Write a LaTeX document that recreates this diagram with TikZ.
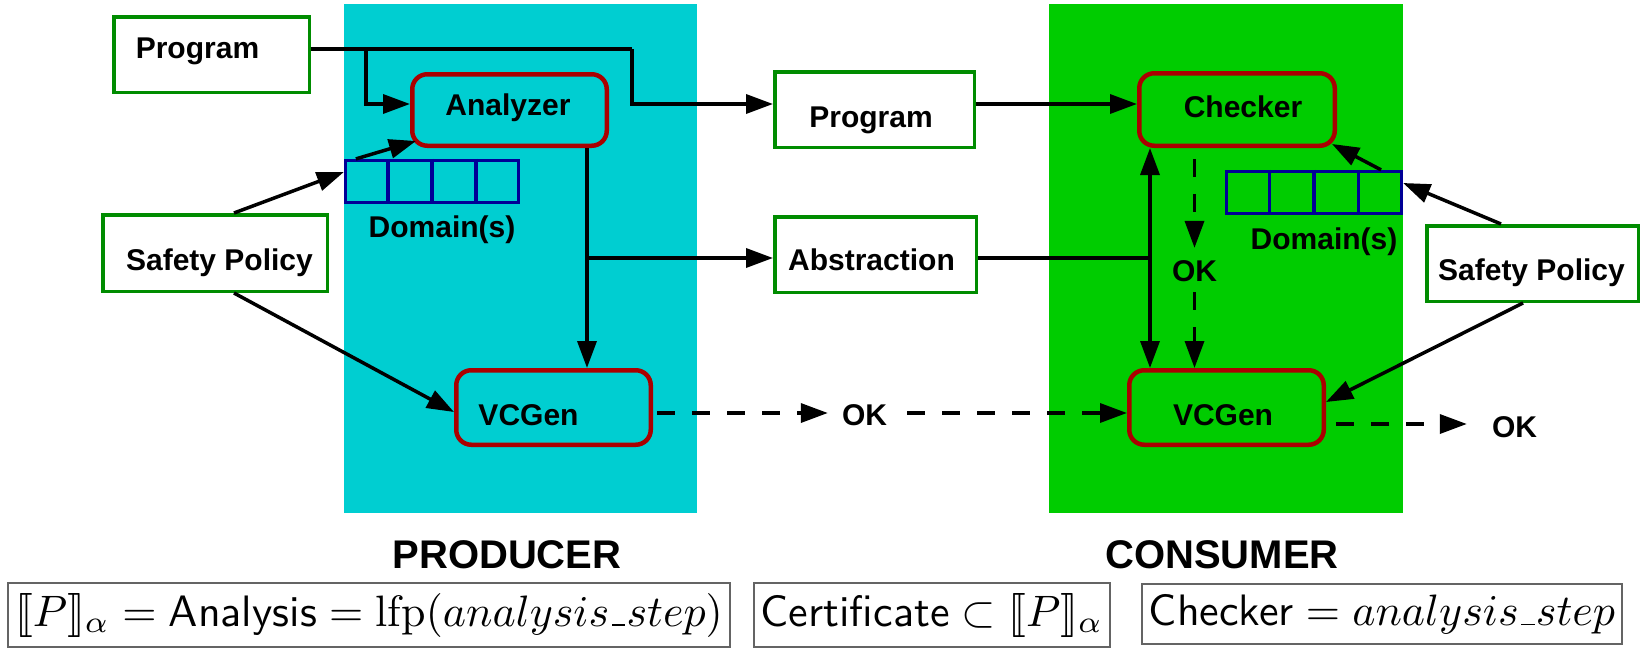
\documentclass[tikz,border=0pt]{standalone}
\usepackage{fontspec}
\usepackage{stmaryrd}
\usepackage{graphicx}
\usetikzlibrary{arrows.meta,calc}
\newfontfamily\lab{Liberation Sans}
\newcommand\uscore{\mbox{\kern.06em\vbox{\hrule width.3em height .04em}\kern.03em}}
\definecolor{prodcyan}{RGB}{0,206,209}
\definecolor{consgreen}{RGB}{0,204,0}
\definecolor{boxgreen}{RGB}{0,140,0}
\definecolor{boxred}{RGB}{170,0,0}
\definecolor{domblue}{RGB}{0,0,150}
\definecolor{fgray}{RGB}{100,100,100}
\begin{document}
\begin{tikzpicture}[x=1pt,y=-1pt,
  bg/.style={draw=none, inner sep=0pt, outer sep=0pt},
  inbox/.style={draw=boxgreen, line width=3.5pt, fill=white, inner sep=0pt},
  tool/.style={draw=boxred, line width=4.5pt, rounded corners=15pt, inner sep=0pt},
  dom/.style={draw=domblue, line width=3.2pt, inner sep=0pt},
  lbl/.style={font=\lab\bfseries\fontsize{30}{36}\selectfont, inner sep=0pt, anchor=base},
  bigtitle/.style={font=\lab\bfseries\fontsize{40}{48}\selectfont, inner sep=0pt, anchor=base},
  ln/.style={line width=3.5pt},
  arr/.style={ln, -{Triangle[length=27pt,width=19pt]}},
  dsh/.style={dash pattern=on 18pt off 17pt},
  darr/.style={arr, dsh},
  formula/.style={draw=fgray, line width=1.5pt, inner xsep=7pt, inner ysep=10pt}
]
\useasboundingbox (0,0) rectangle (1652,648);
\fill[white] (0,0) rectangle (1652,648);

% backgrounds
\node[bg, fill=prodcyan, minimum width=353pt, minimum height=509pt] (prodbg) at (520.5,258.5) {};
\node[bg, fill=consgreen, minimum width=354pt, minimum height=509pt] (consbg) at (1226,258.5) {};

% boxes
\node[inbox, minimum width=195.5pt, minimum height=75.5pt] (progA) at (211.5,54.5) {};
\node[inbox, minimum width=224.5pt, minimum height=76.5pt] (spA) at (215,253) {};
\node[tool, minimum width=194.5pt, minimum height=71.5pt] (an) at (509.5,110) {};
\node[dom, minimum width=173pt, minimum height=42pt] (domA) at (432,181.5) {};
\node[tool, minimum width=194.5pt, minimum height=74.5pt] (vcA) at (553.5,407.5) {};
\node[inbox, minimum width=199.5pt, minimum height=75.5pt] (progB) at (874.5,109.5) {};
\node[inbox, minimum width=201.5pt, minimum height=75.5pt] (absB) at (875.5,254.5) {};
\node[tool, minimum width=195.5pt, minimum height=72.5pt] (ch) at (1237,109.5) {};
\node[dom, minimum width=175pt, minimum height=42pt] (domB) at (1314,192.5) {};
\node[inbox, minimum width=211.5pt, minimum height=75.5pt] (spB) at (1532.5,263.5) {};
\node[tool, minimum width=194.5pt, minimum height=74.5pt] (vcB) at (1226.5,407.5) {};

% domain cells
\foreach \f in {0.25,0.5,0.75}{
  \draw[domblue, line width=3.2pt] ($(domA.north west)!\f!(domA.north east)$) -- ($(domA.south west)!\f!(domA.south east)$);
  \draw[domblue, line width=3.2pt] ($(domB.north west)!\f!(domB.north east)$) -- ($(domB.south west)!\f!(domB.south east)$);
}

% labels
\node[lbl] (tProgA) at (197.5,58) {Program};
\node[lbl] (tSpA) at (219.5,270) {Safety Policy};
\node[lbl] (tAn) at (508,115.5) {Analyzer};
\node[lbl] (tDomA) at (442,237) {Domain(s)};
\node[lbl] (tVcA) at (528.5,425) {VCGen};
\node[lbl] (tProgB) at (871,127) {Program};
\node[lbl] (tAbs) at (871.5,270) {Abstraction};
\node[lbl] (okM) at (864.5,425.5) {OK};
\node[lbl] (tCh) at (1243,117) {Checker};
\node[lbl] (okG) at (1194.5,281) {OK};
\node[lbl] (tDomB) at (1324,249) {Domain(s)};
\node[lbl] (tSpB) at (1531.5,280) {Safety Policy};
\node[lbl] (tVcB) at (1223,425) {VCGen};
\node[lbl] (okR) at (1514.5,437) {OK};
\node[bigtitle] (tProd) at (507,568) {PRODUCER};
\node[bigtitle] (tCons) at (1222,568) {CONSUMER};

% program connectors
\coordinate (jTop) at (366,49);
\coordinate (jCorner) at (632,49);
\coordinate (yIn) at (0,104);
\draw[ln] (progA.east |- jTop) -- (jCorner);
\draw[arr] (jCorner) |- (progB.west |- yIn);
\draw[arr] (jTop) |- (an.west |- yIn);
\draw[arr] (progB.east |- yIn) -- (ch.west |- yIn);

% analyzer outputs
\coordinate (jA) at (587,258);
\draw[ln] (an.south -| jA) -- (jA);
\draw[arr] (jA) -- (vcA.north -| jA);
\draw[arr] (jA) -- (absB.west |- jA);

% abstraction to consumer
\coordinate (jC) at (1150,258);
\draw[ln] (absB.east |- jC) -- (jC);
\draw[arr] (jC) -- (ch.south -| jC);
\draw[arr] (jC) -- (vcB.north -| jC);

% checker OK
\draw[darr, shorten <=11pt] (ch.south -| okG) -- ($(okG.north)+(0,-12)$);
\draw[darr] ($(okG.south)+(0,11)$) -- (vcB.north -| okG);

% VCGen OK chain
\coordinate (yD) at (0,413);
\draw[darr, shorten <=4pt] (vcA.east |- yD) -- ($(okM.west |- yD)+(-14,0)$);
\draw[darr, shorten <=20pt] (okM.east |- yD) -- (vcB.west |- yD);
\coordinate (yE) at (0,424);
\draw[darr, shorten <=10pt] (vcB.east |- yE) -- ($(okR.west |- yE)+(-25,0)$);

% diagonals
\draw[arr] ($(domA.north west)+(12,0)$) -- ($(an.south west)+(6,-7)$);
\draw[arr] ($(spA.north)+(19,0)$) -- ($(domA.west)+(0,-9.5)$);
\draw[arr] ($(spA.south)+(19,0)$) -- ($(vcA.west)+(0,4.5)$);
\draw[arr] ($(domB.north east)+(-22,0)$) -- ($(ch.south east)+(-5,-4)$);
\draw[arr] ($(spB.north)+(-31.5,0)$) -- ($(domB.east)+(0,-9.5)$);
\draw[arr] ($(spB.south)+(-9.5,0)$) -- ($(vcB.east)+(0,-5.5)$);

% formulas
\node[formula] (f1) at (369,615) {\scalebox{4.4}{$\llbracket P\rrbracket_\alpha = \textsf{Analysis} = \mathrm{lfp}(analysis\uscore step)$}};
\node[formula] (f2) at (932,615) {\scalebox{4.4}{$\textsf{Certificate}\subset\llbracket P\rrbracket_\alpha$}};
\node[formula] (f3) at (1382,614) {\scalebox{4.4}{$\textsf{Checker} = analysis\uscore step$}};
\end{tikzpicture}
\end{document}
